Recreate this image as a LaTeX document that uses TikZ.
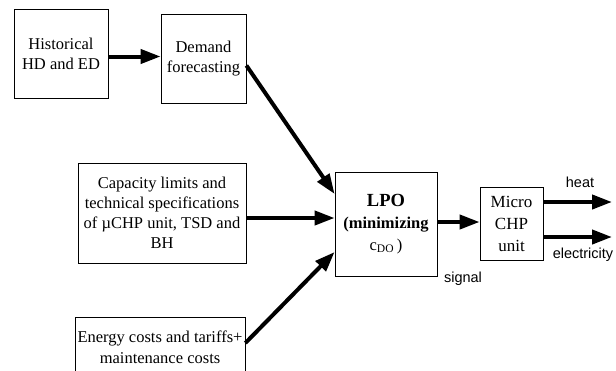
\documentclass[tikz,border=0pt]{standalone}
\usepackage{fontspec}
\setmainfont{Liberation Serif}
\setsansfont{Liberation Sans}
\usetikzlibrary{arrows.meta}

\begin{document}
\begin{tikzpicture}[x=1pt, y=-1pt,
	box/.style={draw, line width=0.8pt, align=center, inner sep=0pt,
		font=\fontsize{16.5}{20}\selectfont},
	flow/.style={line width=4pt, -{Triangle[length=20pt,width=14pt]}},
	tag/.style={font=\sffamily\fontsize{14.5}{16}\selectfont}]
	\useasboundingbox (0,0) rectangle (616,370);
	
	\node[box, minimum width=94pt, minimum height=89pt] (hist) at (61,53.5) {Historical\\HD and ED};
	\node[box, minimum width=85pt, minimum height=89pt] (demand) at (203.5,58.5) {Demand\\forecasting};
	\node[box, minimum width=168pt, minimum height=100pt] (cap) at (162,213) {Capacity limits and\\technical specifications\\of \textmu CHP unit, TSD and\\BH};
	\node[box, minimum width=170pt, minimum height=60pt, font=\fontsize{16.5}{21}\selectfont] (cost) at (160,347) {Energy costs and tariffs+\\maintenance costs};
	\node[box, minimum width=102pt, minimum height=104pt, font=\fontsize{16.5}{22}\selectfont] (lpo) at (386,224)
		{{\bfseries\fontsize{18.5}{22}\selectfont LPO}\\\textbf{(minimizing}\\c\textsubscript{DO}\,)};
	\node[box, minimum width=63pt, minimum height=73pt, font=\fontsize{17}{22}\selectfont] (chp) at (511.5,223.5) {Micro\\CHP\\unit};
	
	\coordinate (heatend) at (612,202);
	\coordinate (elecend) at (612,237);
	
	\draw[flow] ([yshift=-3pt]hist.east) -- ([yshift=-3pt]hist.east -| demand.west);
	\draw[flow] ([yshift=-7pt]demand.east) -- ([yshift=30pt]lpo.west);
	\draw[flow] ([yshift=-5pt]cap.east) -- ([yshift=-5pt]cap.east -| lpo.west);
	\draw[flow] ([yshift=4pt]cost.east) -- ([yshift=-28pt]lpo.west);
	\draw[flow] ([yshift=2pt]lpo.east) -- ([yshift=2pt]lpo.east -| chp.west);
	\draw[flow] (heatend -| chp.east) -- (heatend);
	\draw[flow] (elecend -| chp.east) -- (elecend);
	
	\node[tag] (heat) at (580,182) {heat};
	\node[tag] (elec) at (583,255) {electricity};
	\node[tag] (signal) at (463,279) {signal};
\end{tikzpicture}
\end{document}
